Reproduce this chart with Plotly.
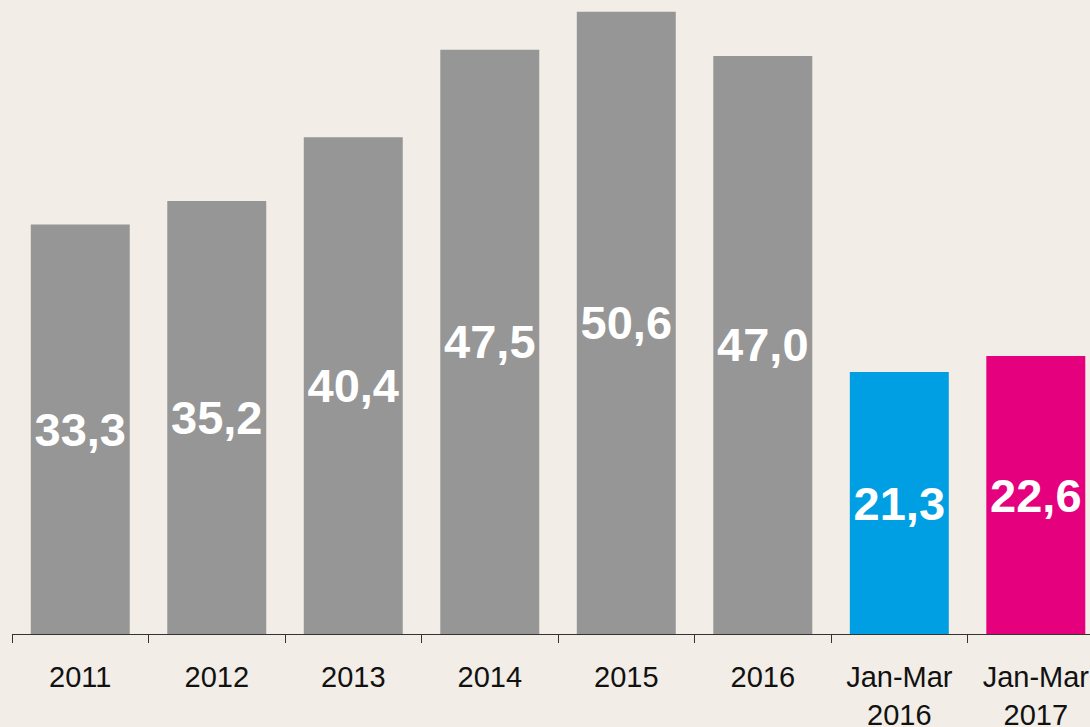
import plotly.graph_objects as go

categories = ["2011", "2012", "2013", "2014", "2015", "2016", "Jan-Mar<br>2016", "Jan-Mar<br>2017"]
values = [33.3, 35.2, 40.4, 47.5, 50.6, 47.0, 21.3, 22.6]
labels = ["33,3", "35,2", "40,4", "47,5", "50,6", "47,0", "21,3", "22,6"]
colors = ["#969696"] * 6 + ["#009FE3", "#E5007E"]

fig = go.Figure(go.Bar(
    x=categories, y=values, text=labels,
    marker=dict(color=colors, line=dict(width=0)),
    textposition="inside", insidetextanchor="middle",
    textfont=dict(family="Arial, Liberation Sans, sans-serif", size=47, color="white", weight="bold"),
    textangle=0, cliponaxis=False,
))

fig.update_layout(
    width=1090, height=727,
    margin=dict(l=12, r=0, t=0, b=93, autoexpand=False),
    paper_bgcolor="#F2EDE6", plot_bgcolor="#F2EDE6",
    bargap=0.275, showlegend=False,
    uniformtext=dict(minsize=47, mode="show"),
    font=dict(family="Arial, Liberation Sans, sans-serif", size=29, color="#111111"),
)
fig.update_xaxes(
    type="category", range=[-0.5, 7.397], automargin=False,
    showline=True, linecolor="#333333", linewidth=1,
    ticks="outside", tickson="boundaries", ticklen=8, tickcolor="#333333", tickwidth=1,
    showgrid=False, ticklabelstandoff=17,
    tickfont=dict(size=29, color="#111111"),
)
fig.update_yaxes(range=[0, 51.55], visible=False, showgrid=False, zeroline=False, automargin=False)

fig.write_html(
    "out.html",
    config={"displayModeBar": False},
    post_script="document.body.style.margin='0';document.body.style.background='#F2EDE6';",
)
